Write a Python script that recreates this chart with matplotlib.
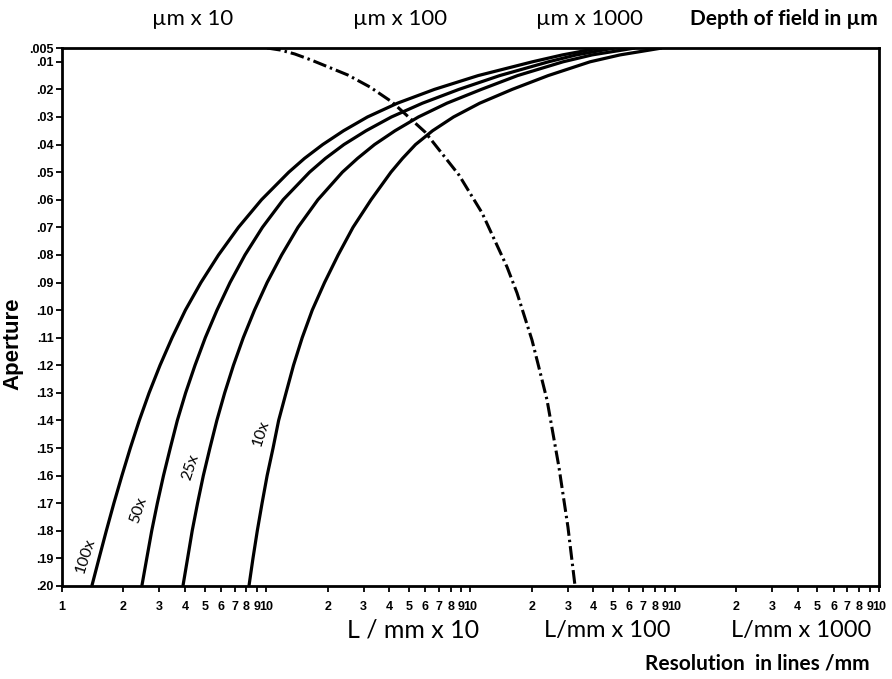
import numpy as np
import matplotlib.pyplot as plt

aperture = [0.005, 0.0075, 0.01, 0.015, 0.02, 0.025, 0.03, 0.035, 0.04, 0.045, 0.05,
            0.06, 0.07, 0.08, 0.09, 0.10, 0.11, 0.12, 0.13, 0.14, 0.15, 0.16,
            0.17, 0.18, 0.19, 0.20]

# resolution in lines/mm for each magnification
res_100x = [428, 282, 201, 109, 66.6, 43.9, 31.3, 23.9, 18.9, 15.4, 12.9,
            9.48, 7.31, 5.84, 4.79, 4.02, 3.46, 3.02, 2.67, 2.39, 2.16, 1.965,
            1.795, 1.648, 1.518, 1.40]
res_50x = [507, 330, 241, 139, 87.8, 58.2, 41.0, 30.8, 24.0, 19.5, 16.3,
           12.1, 9.58, 7.87, 6.65, 5.74, 5.03, 4.48, 4.03, 3.67, 3.39, 3.14,
           2.93, 2.75, 2.60, 2.46]
res_25x = [639, 394, 284, 170, 113, 76.7, 55.6, 42.7, 33.9, 28.0, 23.6,
           17.9, 14.3, 11.9, 10.1, 8.76, 7.72, 6.91, 6.26, 5.73, 5.30, 4.92,
           4.61, 4.34, 4.12, 3.91]
res_10x = [866, 540, 385, 240, 160, 111, 82.6, 65.2, 53.8, 46.5, 40.8,
           32.6, 26.6, 22.5, 19.3, 16.8, 15.0, 13.6, 12.5, 11.5, 10.8, 10.1,
           9.54, 9.04, 8.61, 8.23]
curves = [("100x", res_100x), ("50x", res_50x), ("25x", res_25x), ("10x", res_10x)]

# depth of field curve (dash-dot)
dof_x = [10.1, 11.7, 13.8, 16.6, 25.1, 32.2, 41.3, 59.9, 87.8, 114, 151, 169,
         200, 216, 237, 271, 300, 325]
dof_ap = [0.005, 0.00572, 0.00717, 0.00935, 0.01479, 0.01914, 0.02457, 0.03545,
          0.05103, 0.0648, 0.08438, 0.0938, 0.11083, 0.12062, 0.13258, 0.15686,
          0.17861, 0.20]

ytick_vals = [0.005, 0.01, 0.02, 0.03, 0.04, 0.05, 0.06, 0.07, 0.08, 0.09, 0.10,
              0.11, 0.12, 0.13, 0.14, 0.15, 0.16, 0.17, 0.18, 0.19, 0.20]
ytick_lbls = [".005", ".01", ".02", ".03", ".04", ".05", ".06", ".07", ".08", ".09", ".10",
              ".11", ".12", ".13", ".14", ".15", ".16", ".17", ".18", ".19", ".20"]

xtick_vals = [1, 2, 3, 4, 5, 6, 7, 8, 9, 10,
              20, 30, 40, 50, 60, 70, 80, 90, 100,
              200, 300, 400, 500, 600, 700, 800, 900, 1000,
              2000, 3000, 4000, 5000, 6000, 7000, 8000, 9000, 10000]
xtick_lbls = ["1", "2", "3", "4", "5", "6", "7", "8", "9", "10",
              "2", "3", "4", "5", "6", "7", "8", "9", "10",
              "2", "3", "4", "5", "6", "7", "8", "9", "10",
              "2", "3", "4", "5", "6", "7", "8", "9", "10"]

# label positions (x, aperture) for curve names
lbl_pos = {"100x": (1.30, 0.189), "50x": (2.38, 0.1724), "25x": (4.25, 0.1569), "10x": (9.4, 0.1445)}

hfont = ['Lato', 'DejaVu Sans']
tfont = ['Liberation Sans', 'DejaVu Sans']

fig = plt.figure(figsize=(8.92, 6.79), dpi=100)
ax = fig.add_axes([0.0695, 0.137, 0.9159, 0.7923])

for name, r in curves:
    ax.plot(r, aperture, color='black', lw=2.3, solid_capstyle='butt', solid_joinstyle='round')
    lx, ly = lbl_pos[name]
    ax.text(lx, ly, name, rotation=72, fontsize=11.5, ha='center', va='center', family=hfont)

ax.plot(dof_x, dof_ap, color='black', lw=2.2, linestyle=(0, (4.5, 1.3, 0.8, 1.3)))

ax.set_xscale('log')
ax.set_xlim(1, 10000)
ax.set_ylim(0.20, 0.005)

ax.xaxis.set_minor_locator(plt.NullLocator())
ax.set_xticks(xtick_vals)
ax.set_xticklabels(xtick_lbls, fontsize=9, fontweight='bold', family=tfont)
ax.set_yticks(ytick_vals)
ax.set_yticklabels(ytick_lbls, fontsize=9, fontweight='bold', family=tfont)
ax.tick_params(direction='out', length=4, width=1.3, pad=2)
ax.tick_params(axis='x', pad=7)
for s in ax.spines.values():
    s.set_linewidth(2)

ax.set_ylabel("Aperture", fontsize=16, fontweight='bold', family=tfont)
ax.yaxis.set_label_coords(-0.047, 0.45)

# top labels (depth of field scales)
fig.text(0.216, 0.972, "µm x 10", fontsize=16, ha='center', va='center', family=hfont)
fig.text(0.448, 0.972, "µm x 100", fontsize=16, ha='center', va='center', family=hfont)
fig.text(0.661, 0.972, "µm x 1000", fontsize=16, ha='center', va='center', family=hfont)
fig.text(0.984, 0.972, "Depth of field in µm", fontsize=15, ha='right', va='center',
         family=hfont, fontweight='bold')

# bottom scale labels
fig.text(0.463, 0.072, "L / mm x 10", fontsize=18, ha='center', va='center', family=hfont)
fig.text(0.681, 0.072, "L/mm x 100", fontsize=17, ha='center', va='center', family=hfont)
fig.text(0.898, 0.072, "L/mm x 1000", fontsize=17, ha='center', va='center', family=hfont)
fig.text(0.975, 0.023, "Resolution  in lines /mm", fontsize=15, ha='right', va='center',
         family=hfont, fontweight='bold')

plt.savefig("out.png", dpi=100)
